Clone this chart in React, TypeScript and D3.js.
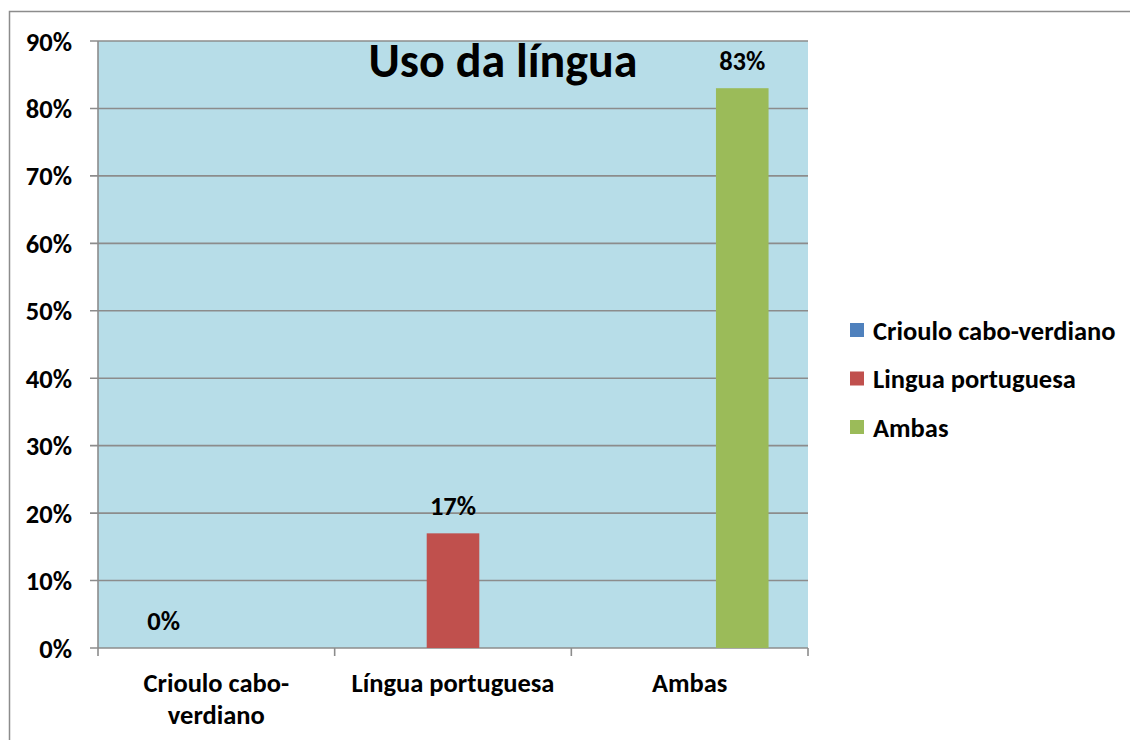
import React from "react";
import * as d3 from "d3";

const categories = ["Crioulo cabo-verdiano", "Língua portuguesa", "Ambas"];
const categoryLines = [["Crioulo cabo-", "verdiano"], ["Língua portuguesa"], ["Ambas"]];
const seriesNames = ["Crioulo cabo-verdiano", "Lingua portuguesa", "Ambas"];
const seriesColors = ["#4f81bd", "#c0504d", "#9bbb59"];
// value per series per category (null = no bar)
const seriesValues: (number | null)[][] = [
  [0, null, null],
  [null, 17, null],
  [null, null, 83],
];
const yTicks = [0, 10, 20, 30, 40, 50, 60, 70, 80, 90];
const title = "Uso da língua";

const FONT = "Carlito, Calibri, Lato, 'Open Sans', sans-serif";
const FS = 26.5;

export default function App() {
  const W = 1130, H = 740;
  const left = 98, right = 808, top = 41, bottom = 648;
  const x = d3.scaleBand<string>().domain(categories).range([left, right]).paddingInner(0).paddingOuter(0);
  const y = d3.scaleLinear().domain([0, 90]).range([bottom, top]);
  const bw = x.bandwidth();
  const barW = bw / (3 + 1.5);
  const inner = d3.scaleBand<number>().domain([0, 1, 2]).range([0, barW * 3]).padding(0);
  const groupOffset = (bw - barW * 3) / 2;
  const gridColor = "#8c8c8c";

  return (
    <svg width={W} height={H} style={{ position: "absolute", left: 0, top: 0, background: "#fff" }}>
      <rect x={9.5} y={11.5} width={W + 10} height={H + 10} fill="#fff" stroke="#8c8c8c" strokeWidth={1.5} />
      <rect x={left} y={top} width={right - left} height={bottom - top} fill="#b7dde8" />
      {yTicks.map((t) => (
        <g key={t}>
          <line x1={left - 8} x2={right} y1={y(t)} y2={y(t)} stroke={gridColor} strokeWidth={1.6} />
          <text x={72} y={y(t)} dy="0.36em" textAnchor="end" fontFamily={FONT} fontWeight="bold" fontSize={FS} fill="#000">
            {t}%
          </text>
        </g>
      ))}
      <line x1={left} x2={left} y1={top} y2={bottom} stroke={gridColor} strokeWidth={1.6} />
      {[...categories.map((c) => x(c)!), right].map((px, i) => (
        <line key={i} x1={px} x2={px} y1={bottom} y2={bottom + 8} stroke={gridColor} strokeWidth={1.6} />
      ))}
      {seriesValues.map((vals, si) =>
        vals.map((v, ci) => {
          if (v === null) return null;
          const bx = x(categories[ci])! + groupOffset + inner(si)!;
          return (
            <g key={`${si}-${ci}`}>
              <rect x={bx} y={y(v)} width={barW} height={bottom - y(v)} fill={seriesColors[si]} />
              <text x={bx + barW / 2} y={y(v) - 18} textAnchor="middle" fontFamily={FONT} fontWeight="bold" fontSize={FS} fill="#000">
                {v}%
              </text>
            </g>
          );
        })
      )}
      {categoryLines.map((lines, ci) => (
        <text key={ci} textAnchor="middle" fontFamily={FONT} fontWeight="bold" fontSize={FS} fill="#000">
          {lines.map((l, li) => (
            <tspan key={li} x={x(categories[ci])! + bw / 2} y={692 + li * 32}>
              {l}
            </tspan>
          ))}
        </text>
      ))}
      <text x={503} y={77} textAnchor="middle" fontFamily={FONT} fontWeight="bold" fontSize={48} fill="#000">
        {title}
      </text>
      {seriesNames.map((n, i) => (
        <g key={n}>
          <rect x={850} y={323 + i * 48.5} width={14} height={14} fill={seriesColors[i]} />
          <text x={873} y={330 + i * 48.5} dy="0.36em" fontFamily={FONT} fontWeight="bold" fontSize={FS} fill="#000">
            {n}
          </text>
        </g>
      ))}
    </svg>
  );
}
